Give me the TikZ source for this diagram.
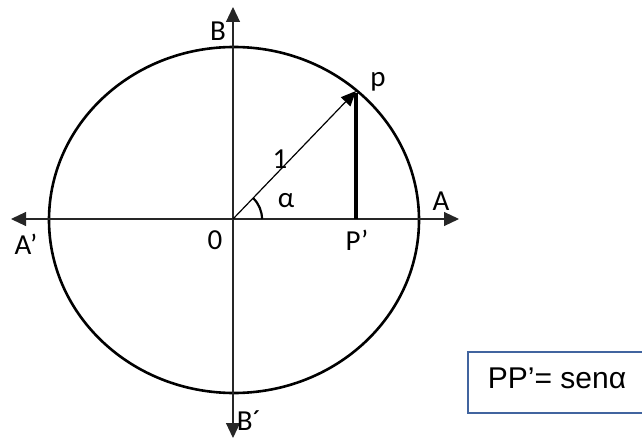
\documentclass[tikz,border=0pt]{standalone}
\usepackage{fontspec}
\setmainfont{Carlito}
\newfontfamily\boxfont{Liberation Sans}
\usetikzlibrary{arrows.meta}
\definecolor{boxblue}{HTML}{41649F}
\begin{document}
\begin{tikzpicture}[x=1pt,y=-1pt,
  axis/.style={line width=1.1pt,draw=black!85,-{Triangle[length=15pt,width=14pt]}},
  lbl/.style={inner sep=0pt,font=\fontsize{29}{32}\selectfont},
  radline/.style={line width=1.2pt,-{Triangle[length=15pt,width=13pt]}}]
\useasboundingbox (0,0) rectangle (642,441);
\coordinate (O) at (233,219);
\coordinate (Ae) at (459,219);
\coordinate (Ape) at (11,219);
\coordinate (Be) at (233,7);
\coordinate (Bpe) at (233,438);
\coordinate (P) at (356,91);
\coordinate (Pp) at (356,219);
% circle
\draw[line width=2.6pt] (234,220) ellipse [x radius=185, y radius=173];
% axes
\draw[axis] (O) -- (Ae);
\draw[axis] (O) -- (Ape);
\draw[axis] (O) -- (Be);
\draw[axis] (O) -- (Bpe);
% radius and sine
\draw[radline] (O) -- (P);
\draw[line width=4pt] (Pp) -- (356,93);
% angle arc
\draw[line width=2.2pt] (O) ++(29,0) arc[start angle=0,end angle=-46,radius=29];
% labels
\node[lbl] (lB) at (218,31) {B};
\node[lbl] (lp) at (378,82) {p};
\node[lbl] (l1) at (280,159) {1};
\node[lbl] (lal) at (286,201) {α};
\node[lbl] (lA) at (441,201) {A};
\node[lbl] (lAp) at (26,244) {A’};
\node[lbl] (l0) at (215,240) {0};
\node[lbl] (lPp) at (357,240) {P’};
\node[lbl] (lBp) at (249,421) {B´};
% box
\node[draw=boxblue,line width=2pt,minimum width=178pt,minimum height=61pt,anchor=north west,inner sep=0pt] (box) at (467,351) {};
\node[inner sep=0pt,font=\boxfont\fontsize{30}{34}\selectfont] (eq) at (557,378) {PP’= senα};
\end{tikzpicture}
\end{document}
